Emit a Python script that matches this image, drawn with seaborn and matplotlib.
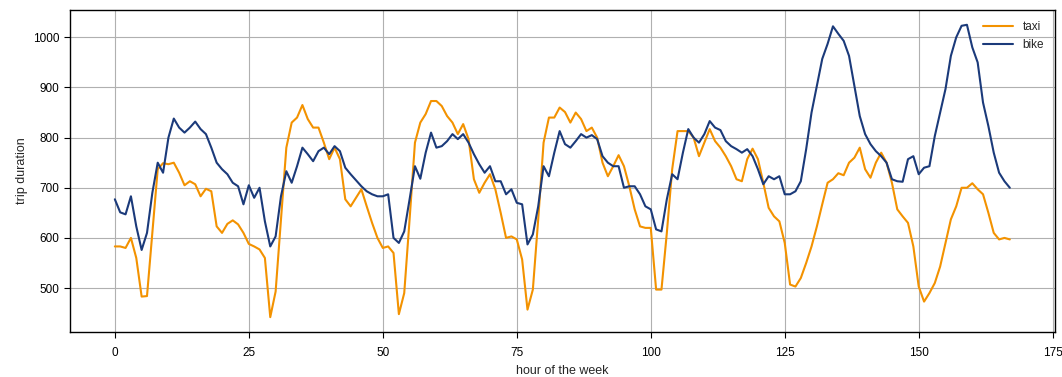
#!/usr/bin/env python3
"""Weekly trip duration profile: taxi vs bike."""

import matplotlib
matplotlib.use("Agg")
import matplotlib.pyplot as plt
import numpy as np
import pandas as pd
import seaborn as sns

hours = np.arange(168)

taxi = [
    583, 583, 580, 600, 560, 483, 484, 610, 737, 749, 747, 750, 730, 705, 713, 707,
    683, 698, 693, 623, 610, 628, 635, 627, 610, 588, 583, 577, 560, 442, 493, 637,
    780, 830, 840, 865, 837, 820, 820, 790, 757, 780, 757, 677, 663, 680, 697, 663,
    630, 600, 580, 583, 570, 448, 490, 637, 790, 830, 847, 873, 873, 863, 843, 830,
    807, 827, 797, 717, 690, 710, 727, 697, 650, 600, 603, 597, 557, 457, 497, 637,
    790, 840, 840, 860, 851, 830, 850, 837, 813, 820, 800, 750, 723, 743, 765, 743,
    703, 657, 623, 620, 620, 497, 497, 610, 737, 813, 813, 813, 800, 763, 790, 817,
    793, 780, 763, 743, 717, 713, 757, 778, 757, 710, 660, 643, 633, 590, 507, 503,
    520, 550, 583, 623, 667, 710, 717, 729, 725, 750, 760, 780, 737, 720, 750, 770,
    750, 710, 657, 643, 630, 583, 503, 473, 490, 510, 543, 590, 637, 663, 700, 700,
    709, 697, 687, 650, 610, 597, 600, 597,
]

bike = [
    677, 651, 647, 683, 623, 576, 610, 690, 750, 730, 800, 838, 820, 810, 820, 832,
    817, 807, 780, 750, 737, 727, 710, 703, 667, 705, 680, 700, 633, 583, 603, 683,
    733, 710, 743, 780, 767, 753, 773, 780, 767, 783, 773, 740, 727, 715, 703, 693,
    687, 683, 683, 687, 600, 590, 613, 677, 743, 718, 770, 810, 780, 783, 793, 807,
    797, 807, 790, 767, 747, 730, 743, 713, 713, 687, 697, 670, 667, 587, 607, 663,
    743, 723, 770, 813, 787, 780, 793, 807, 800, 805, 797, 763, 750, 743, 743, 700,
    703, 703, 687, 663, 657, 617, 613, 677, 727, 717, 770, 817, 800, 790, 807, 833,
    820, 815, 793, 783, 777, 770, 777, 763, 737, 707, 723, 717, 723, 687, 687, 693,
    713, 777, 850, 903, 957, 987, 1022, 1007, 993, 963, 903, 843, 807, 787, 773, 763,
    750, 717, 713, 712, 757, 763, 727, 740, 743, 803, 850, 897, 963, 1000, 1023, 1025,
    980, 950, 870, 823, 770, 730, 713, 700,
]

series_names = ["taxi", "bike"]
palette = {"taxi": "#F39200", "bike": "#1B3A7A"}


def main() -> int:
    sns.set_style("ticks", {"axes.grid": True, "grid.color": "#b0b0b0",
                            "axes.edgecolor": "black"})
    plt.rcParams["font.family"] = ["Liberation Sans", "DejaVu Sans"]

    df = pd.DataFrame({
        "hour": np.concatenate([hours, hours]),
        "trip duration": taxi + bike,
        "mode": ["taxi"] * len(taxi) + ["bike"] * len(bike),
    })

    fig = plt.figure(figsize=(10.62, 3.77), dpi=100)
    ax = fig.add_axes([0.066, 0.12, 0.927, 0.853])
    sns.lineplot(data=df, x="hour", y="trip duration", hue="mode",
                 hue_order=series_names, palette=palette, linewidth=1.5, ax=ax)

    ax.set_xlabel("hour of the week", fontsize=9, labelpad=4)
    ax.set_ylabel("trip duration", fontsize=9)
    ax.tick_params(labelsize=8.5, length=4, width=0.8, colors="black")
    ax.tick_params(axis="x", pad=7)
    ax.set_xticks(range(0, 176, 25))
    ax.set_yticks(range(500, 1001, 100))
    ax.grid(True, color="#b0b0b0", linewidth=0.8)
    for spine in ax.spines.values():
        spine.set_color("black")
        spine.set_linewidth(1.0)

    ax.legend(title=None, loc="upper right", frameon=False, fontsize=8.5,
              handlelength=2.5)

    fig.savefig("out.png", dpi=100)
    plt.close(fig)
    return 0


if __name__ == "__main__":
    raise SystemExit(main())
